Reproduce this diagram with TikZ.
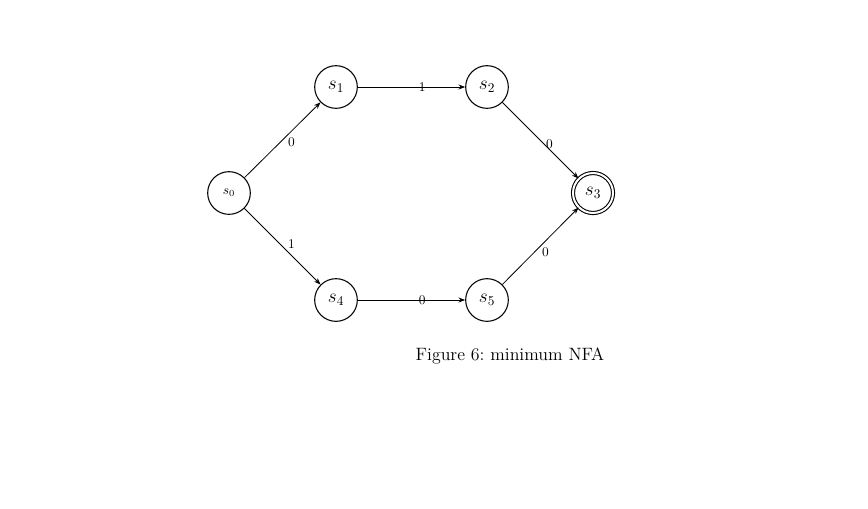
\documentclass[tikz,border=0pt]{standalone}
\usetikzlibrary{arrows.meta}
\begin{document}
\begin{tikzpicture}[x=0.75pt,y=-0.75pt,
  st/.style={circle,draw,thick,minimum size=32pt,inner sep=0pt,font=\Large},
  acc/.style={st,double,double distance=1.5pt,minimum size=30pt},
  tr/.style={-{Stealth[length=5pt]},semithick},
  lb/.style={font=\normalsize,inner sep=1pt}]
\useasboundingbox (0,0) rectangle (868,508);
\node[st,font=\normalsize] (s0) at (229,193) {$s_0$};
\node[st] (s1) at (336,87) {$s_1$};
\node[st] (s2) at (487,87) {$s_2$};
\node[acc] (s3) at (593,193) {$s_3$};
\node[st] (s4) at (336,300) {$s_4$};
\node[st] (s5) at (487,300) {$s_5$};
\draw[tr] (s0) -- node[lb,pos=0.55,below right] {0} (s1);
\draw[tr] (s0) -- node[lb,pos=0.55,above right] {1} (s4);
\draw[tr] (s1) -- node[lb,pos=0.6] {1} (s2);
\draw[tr] (s4) -- node[lb,pos=0.6] {0} (s5);
\draw[tr] (s2) -- node[lb,pos=0.55,right] {0} (s3);
\draw[tr] (s5) -- node[lb,pos=0.5,below right] {0} (s3);
\node[font=\fontsize{13.4}{16}\selectfont] (cap) at (510,356) {Figure 6:\ minimum NFA};
\end{tikzpicture}
\end{document}
